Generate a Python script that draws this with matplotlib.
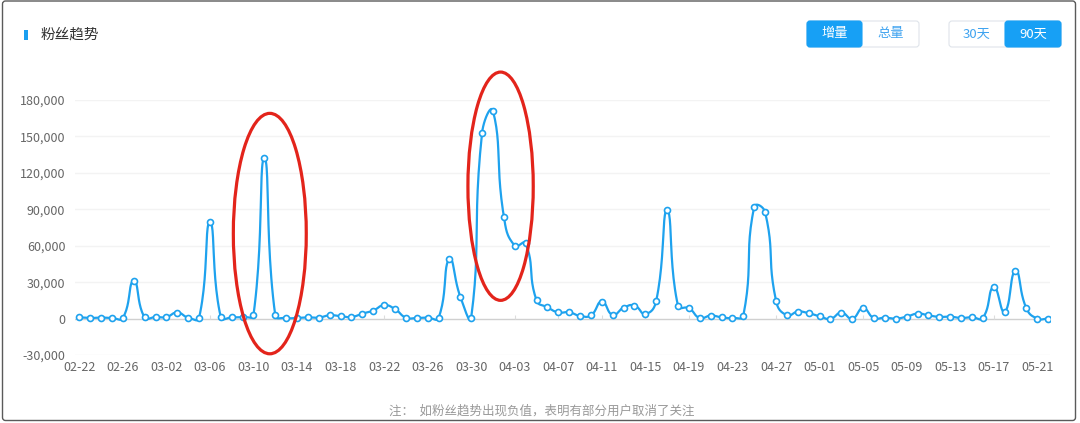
import numpy as np
import matplotlib
matplotlib.use("Agg")
import matplotlib.pyplot as plt
from matplotlib.patches import Ellipse, Rectangle, FancyBboxPatch
from matplotlib.transforms import IdentityTransform
from matplotlib.ticker import FuncFormatter

plt.rcParams['font.family'] = ['Noto Sans CJK SC', 'DejaVu Sans']

# ---------------- data ----------------
values = [
    1000, 500, 800, 500, 500, 31000, 1000, 1300, 1300, 5000,
    800, 500, 79500, 1000, 1000, 1300, 3000, 132000, 2700, 500,
    500, 1000, 800, 2700, 2000, 1300, 4100, 6600, 11000, 7800,
    800, 500, 800, 500, 49000, 18000, 800, 153000, 171000, 84000,
    60000, 62000, 15000, 9300, 5100, 5200, 2200, 2700, 14000, 3000,
    9000, 10700, 3800, 14800, 89000, 10400, 8500, 500, 2500, 1000,
    500, 2500, 92000, 87600, 14800, 2700, 5700, 4400, 1900, -200,
    4900, 0, 8500, 400, 800, 0, 1600, 4100, 2700, 1400,
    1600, 500, 1100, 500, 26000, 5500, 39400, 8500, 0, 0,
]
xtick_labels = ['02-22', '02-26', '03-02', '03-06', '03-10', '03-14', '03-18',
                '03-22', '03-26', '03-30', '04-03', '04-07', '04-11', '04-15',
                '04-19', '04-23', '04-27', '05-01', '05-05', '05-09', '05-13',
                '05-17', '05-21']
ytick_values = [-30000, 0, 30000, 60000, 90000, 120000, 150000, 180000]
title = '粉丝趋势'
note = '注：  如粉丝趋势出现负值，表明有部分用户取消了关注'
# highlighted regions (center day, center value, width days, height value)
highlights = [(17.5, 70000, 6.7, 198000), (38.7, 109000, 6.0, 188000)]

W, H = 1080, 423
fig = plt.figure(figsize=(W / 100, H / 100), dpi=100)
fig.patch.set_facecolor('white')

ax_l, ax_r, ax_t, ax_b = 75, 1050, 100, 355
ax = fig.add_axes([ax_l / W, (H - ax_b) / H, (ax_r - ax_l) / W, (ax_b - ax_t) / H])

days = np.arange(len(values))
vals = np.array(values, dtype=float)
xmin, xmax = -0.395, 89.17
ymin, ymax = -30000, 180000
ax.set_xlim(xmin, xmax)
ax.set_ylim(ymin, ymax)

# echarts-like smooth bezier in pixel space
sx = (ax_r - ax_l) / (xmax - xmin)
sy = (ax_b - ax_t) / (ymax - ymin)
P = np.column_stack([days * sx, vals * sy])
n = len(P)
cin = np.zeros_like(P)
cout = np.zeros_like(P)
smooth = 0.5
for i in range(n):
    prev = P[i - 1] if i > 0 else P[i]
    nxt = P[i + 1] if i < n - 1 else P[i]
    v = (nxt - prev) * smooth
    d0 = np.hypot(*(P[i] - prev))
    d1 = np.hypot(*(P[i] - nxt))
    s = d0 + d1
    if s > 0:
        d0 /= s
        d1 /= s
    cin[i] = P[i] - v * d0
    cout[i] = P[i] + v * d1
t = np.linspace(0, 1, 25)[:, None]
curve = []
for i in range(n - 1):
    p0, p1, p2, p3 = P[i], cout[i], cin[i + 1], P[i + 1]
    seg = ((1 - t) ** 3) * p0 + 3 * ((1 - t) ** 2) * t * p1 + 3 * (1 - t) * t ** 2 * p2 + t ** 3 * p3
    curve.append(seg if i == 0 else seg[1:])
curve = np.vstack(curve)
cx, cy = curve[:, 0] / sx, curve[:, 1] / sy

line_color = '#1ea2ee'
ax.plot(cx, cy, color=line_color, lw=1.6, zorder=3, solid_capstyle='round')
ax.plot(days, vals, linestyle='none', marker='o', markersize=4.3,
        markerfacecolor='white', markeredgecolor=line_color, markeredgewidth=1.2, zorder=4)

# grid
for yv in ytick_values:
    if yv == 0:
        ax.axhline(yv, color='#d0d0d0', lw=1.0, zorder=1)
    else:
        ax.axhline(yv, color='#f3f3f3', lw=1.0, zorder=0)
xticks = np.arange(0, len(values), 4)[:len(xtick_labels)]
ax.vlines(xticks, 0, 4 / sy, color='#dddddd', lw=0.8, zorder=1)

ax.set_yticks(ytick_values)
ax.yaxis.set_major_formatter(FuncFormatter(lambda v, p: f'{int(v):,}'))
ax.set_xticks(xticks)
ax.set_xticklabels(xtick_labels)
ax.tick_params(axis='both', length=0, labelsize=9, colors='#666666')
ax.tick_params(axis='y', pad=7)
ax.tick_params(axis='x', pad=4)
for s in ax.spines.values():
    s.set_visible(False)
ax.set_facecolor('none')

# red ellipses
for (ex, ey, ew, eh) in highlights:
    ax.add_patch(Ellipse((ex, ey), ew, eh, fill=False, edgecolor='#e3241b',
                         lw=2.3, clip_on=False, zorder=5))

ident = IdentityTransform()

def px_rect(x0, y0, x1, y1, **kw):
    return FancyBboxPatch((x0, H - y1), x1 - x0, y1 - y0,
                          boxstyle='round,pad=0,rounding_size=3', transform=ident, **kw)

# outer border
fig.add_artist(FancyBboxPatch((2.5, H - 420.5), 1073, 419.5,
                              boxstyle='round,pad=0,rounding_size=3',
                              transform=ident, fill=False, edgecolor='#5a5a5a', lw=1.0))

# title
fig.add_artist(Rectangle((23.5, H - 40), 4, 10, transform=ident,
                         facecolor='#1a9ff0', edgecolor='none'))
fig.text(40.5 / W, (H - 34.5) / H, title, fontsize=10.5, color='#333333',
         ha='left', va='center')

# buttons
blue = '#17a0f5'
fig.add_artist(px_rect(807, 21, 919, 47, facecolor='white', edgecolor='#dfe4ea', lw=0.8))
fig.add_artist(px_rect(807, 21, 862, 47, facecolor=blue, edgecolor=blue, lw=0.8))
fig.add_artist(px_rect(949, 21, 1061, 47, facecolor='white', edgecolor='#dfe4ea', lw=0.8))
fig.add_artist(px_rect(1005, 21, 1061, 47, facecolor=blue, edgecolor=blue, lw=0.8))
for (x0, x1, label, fg) in [(807, 862, '增量', 'white'), (862, 919, '总量', '#3fa3f0'),
                            (949, 1005, '30天', '#3fa3f0'), (1005, 1061, '90天', 'white')]:
    fig.text((x0 + x1) / 2 / W, (H - 34) / H, label, fontsize=9.5, color=fg,
             ha='center', va='center')

# footnote
fig.text(542 / W, (H - 411) / H, note, fontsize=9, color='#999999',
         ha='center', va='center')

fig.savefig('out.png', dpi=100, facecolor='white')
